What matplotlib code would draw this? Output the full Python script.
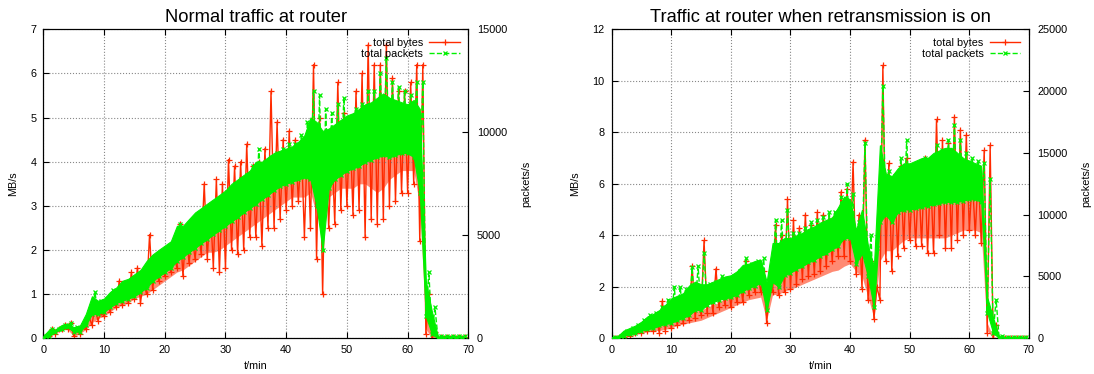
import numpy as np
import matplotlib
matplotlib.use("Agg")
import matplotlib.pyplot as plt

plt.rcParams["font.family"] = ["Liberation Sans", "DejaVu Sans"]

RED, GREEN, GRID = "#ff2a00", "#00f000", "#888888"

# minute index 0..69 ; per-minute envelopes
# *_lo / *_hi : extreme values (spikes) ; *_core_* : edges of the dense band
minutes = np.arange(70)

# ---- left panel: normal traffic (bytes in MB/s, packets in packets/s) ----
normal_bytes_lo = [0.0, 0.05, 0.1, 0.2, 0.2, 0.05, 0.1, 0.2, 0.3, 0.4, 0.5, 0.6, 0.7, 0.75, 0.8, 0.9,
                   0.8, 1.0, 1.1, 1.3, 1.4, 1.5, 1.6, 1.4, 1.7, 1.8, 1.9, 1.8, 1.6, 1.5, 1.6, 2.0,
                   1.9, 2.0, 2.3, 2.3, 2.1, 2.5, 2.5, 2.7, 2.9, 3.0, 3.1, 2.3, 2.5, 1.8, 1.0, 2.5,
                   2.6, 2.9, 3.0, 2.8, 2.9, 2.3, 2.7, 2.6, 2.7, 3.0, 3.1, 3.3, 3.3, 3.5, 2.2, 0.1,
                   0.0, 0.0, 0.01, 0.01, 0.01, 0.01]
normal_bytes_hi = [0.05, 0.2, 0.2, 0.3, 0.35, 0.2, 0.3, 0.5, 0.7, 0.6, 0.8, 0.9, 1.3, 1.1, 1.5, 1.6,
                   1.3, 2.35, 1.7, 1.9, 2.0, 1.9, 2.6, 2.5, 2.3, 2.5, 3.5, 3.0, 3.6, 3.5, 4.05, 3.9,
                   4.0, 4.4, 3.9, 4.0, 4.3, 5.6, 4.9, 4.5, 4.7, 4.5, 4.4, 4.5, 6.2, 5.0, 4.5, 4.4,
                   5.8, 5.1, 4.9, 5.6, 6.0, 6.65, 6.2, 6.2, 6.65, 5.9, 5.6, 5.6, 5.8, 6.2, 6.2, 1.0,
                   0.15, 0.02, 0.02, 0.02, 0.02, 0.02]
normal_bytes_core_lo = [0.0, 0.05, 0.1, 0.2, 0.2, 0.05, 0.1, 0.2, 0.35, 0.45, 0.5, 0.6, 0.7, 0.75, 0.8,
                        0.9, 0.95, 1.0, 1.1, 1.2, 1.3, 1.4, 1.5, 1.55, 1.65, 1.75, 1.85, 1.95, 1.95, 2.0,
                        2.1, 2.2, 2.3, 2.4, 2.5, 2.6, 2.7, 2.8, 2.9, 3.0, 3.1, 3.2, 3.2, 3.2, 3.3, 2.8,
                        2.5, 3.2, 3.3, 3.4, 3.4, 3.4, 3.5, 3.5, 3.4, 3.3, 3.4, 3.6, 3.7, 3.8, 3.8, 3.8,
                        3.0, 0.2, 0.02, 0.01, 0.01, 0.01, 0.01, 0.01]
normal_bytes_core_hi = [0.03, 0.15, 0.18, 0.28, 0.3, 0.15, 0.25, 0.45, 0.6, 0.6, 0.75, 0.85, 0.95, 1.0,
                        1.1, 1.2, 1.25, 1.35, 1.45, 1.55, 1.65, 1.75, 1.9, 2.0, 2.1, 2.2, 2.35, 2.5, 2.6,
                        2.7, 2.8, 2.9, 3.0, 3.1, 3.2, 3.3, 3.4, 3.5, 3.6, 3.7, 3.8, 3.9, 4.0, 4.1, 4.2,
                        4.0, 3.8, 4.0, 4.1, 4.2, 4.2, 4.3, 4.3, 4.4, 4.4, 4.4, 4.5, 4.5, 4.5, 4.6, 4.6,
                        4.6, 4.5, 0.5, 0.1, 0.02, 0.02, 0.02, 0.02, 0.02]
normal_pkts_lo = [20, 110, 320, 430, 540, 320, 320, 640, 1180, 1180, 1290, 1500, 1710, 1820, 1930, 2040,
                  2250, 2460, 2790, 3000, 3210, 3430, 3750, 3960, 4180, 4390, 4610, 4820, 5040, 5250,
                  5460, 5680, 5890, 6110, 6320, 6540, 6750, 6960, 7180, 7390, 7500, 7610, 7710, 7820,
                  7710, 6430, 4290, 7290, 7710, 7930, 8140, 8250, 8360, 8570, 8680, 8790, 8890, 8790,
                  8890, 9000, 9000, 8790, 7070, 1070, 210, 0, 40, 40, 40, 40]
normal_pkts_core = [110, 430, 430, 640, 710, 540, 600, 1180, 2040, 1820, 1930, 2250, 2460, 2790, 2890,
                    3110, 3320, 3750, 4070, 4290, 4500, 4710, 5460, 5460, 5790, 6110, 6320, 6540, 6750,
                    6960, 7180, 7500, 7710, 7930, 8140, 8570, 8570, 8790, 9000, 9110, 9210, 9320, 9540,
                    9860, 10720, 10500, 10070, 10180, 10390, 10610, 10820, 10930, 11140, 11360, 11460,
                    11680, 11890, 11680, 11570, 11460, 11360, 11570, 11140, 2790, 1290, 60, 60, 60,
                    60, 60]
normal_pkts_hi = [110, 430, 430, 640, 750, 540, 640, 1290, 2250, 1820, 1930, 2360, 2360, 2680, 2790,
                  3000, 3110, 3640, 3860, 4180, 4290, 4500, 5570, 5140, 5570, 5890, 6210, 6430, 6640,
                  6860, 7070, 7500, 7710, 7930, 8360, 9210, 8570, 8790, 9000, 9210, 9430, 9430, 9860,
                  10500, 12000, 11790, 11140, 10930, 11360, 11680, 10710, 11140, 11360, 12000, 12000,
                  12860, 13610, 12430, 12210, 12000, 11790, 12430, 12430, 3210, 1500, 110, 110, 110,
                  110, 110]

# ---- right panel: retransmission on ----
retx_bytes_lo = [0.0, 0.0, 0.05, 0.1, 0.2, 0.2, 0.3, 0.3, 0.2, 0.3, 0.4, 0.5, 0.6, 0.7, 0.8, 0.9,
                 1.0, 1.0, 1.2, 1.3, 1.2, 1.4, 1.4, 1.7, 1.8, 1.8, 0.6, 1.8, 1.7, 1.8, 1.9, 2.1,
                 2.3, 2.4, 2.5, 2.6, 2.8, 3.0, 3.2, 3.2, 3.0, 2.5, 1.9, 1.5, 0.75, 1.5, 3.0, 2.6,
                 3.2, 3.5, 3.8, 3.6, 3.6, 3.3, 3.3, 4.0, 3.5, 3.5, 3.8, 4.0, 4.2, 4.0, 3.7, 0.2,
                 0.0, 0.0, 0.01, 0.01, 0.01, 0.01]
retx_bytes_hi = [0.02, 0.05, 0.2, 0.3, 0.4, 0.5, 0.6, 0.8, 1.45, 1.2, 1.3, 1.4, 1.5, 2.8, 1.6, 3.8,
                 1.9, 2.7, 2.0, 2.3, 2.2, 2.4, 3.0, 2.5, 2.6, 2.6, 2.0, 4.4, 4.0, 5.4, 4.6, 4.3,
                 4.8, 4.4, 4.9, 4.8, 4.6, 4.7, 5.7, 5.8, 6.85, 4.8, 7.7, 3.0, 2.0, 10.6, 6.8, 6.2,
                 6.7, 7.0, 6.2, 6.3, 7.0, 6.5, 8.5, 7.7, 7.6, 8.6, 8.1, 7.9, 6.3, 6.5, 7.3, 7.5,
                 0.5, 0.03, 0.02, 0.02, 0.02, 0.02]
retx_bytes_core_lo = [0.0, 0.0, 0.05, 0.1, 0.15, 0.2, 0.25, 0.3, 0.3, 0.35, 0.4, 0.5, 0.55, 0.6, 0.65,
                      0.7, 0.8, 0.9, 1.0, 1.1, 1.2, 1.3, 1.4, 1.5, 1.55, 1.6, 0.7, 1.7, 1.7, 1.85, 1.9,
                      2.0, 2.1, 2.2, 2.3, 2.4, 2.5, 2.6, 2.65, 2.8, 2.9, 2.6, 2.4, 1.6, 0.8, 3.0, 3.4,
                      3.4, 3.6, 3.8, 3.9, 3.9, 3.9, 3.9, 3.9, 3.9, 3.9, 4.0, 4.1, 4.2, 4.2, 4.2, 4.1,
                      0.3, 0.0, 0.01, 0.01, 0.01, 0.01, 0.01]
retx_bytes_core_hi = [0.02, 0.03, 0.12, 0.2, 0.3, 0.35, 0.45, 0.55, 0.6, 0.75, 0.85, 0.9, 0.95, 1.0,
                      1.05, 1.1, 1.2, 1.3, 1.4, 1.55, 1.65, 1.8, 1.95, 2.0, 2.1, 2.15, 1.5, 2.6, 2.5,
                      2.7, 2.8, 2.9, 3.0, 3.1, 3.2, 3.25, 3.4, 3.6, 3.8, 4.1, 4.3, 3.6, 3.2, 2.6, 1.6,
                      6.0, 5.0, 5.0, 5.2, 5.3, 5.4, 5.4, 5.5, 5.5, 5.6, 5.6, 5.7, 5.7, 5.8, 5.8, 5.8,
                      5.7, 5.7, 0.6, 0.05, 0.02, 0.02, 0.02, 0.02, 0.02]
retx_pkts_lo = [0, 0, 210, 310, 420, 620, 730, 830, 1040, 1150, 1250, 1460, 1670, 1870, 2290, 2290,
                2710, 2920, 3120, 3230, 3330, 3540, 3850, 4060, 4270, 4480, 2290, 4580, 4170, 5100,
                5310, 5620, 5830, 6150, 6350, 6670, 6870, 7190, 7500, 8120, 8120, 6040, 6870, 5000,
                2500, 9370, 10000, 9370, 10210, 10420, 10420, 10520, 10620, 10730, 10830, 10940,
                11040, 11040, 11040, 11150, 11250, 11250, 11040, 2080, 420, 40, 60, 60, 60, 60]
retx_pkts_core = [60, 170, 620, 830, 1040, 1350, 1770, 1980, 2290, 2710, 3230, 3440, 3650, 4270, 4580,
                  4370, 4370, 4580, 4790, 5000, 5100, 5420, 5940, 6040, 6250, 6350, 4580, 7710, 7710,
                  8120, 8120, 8330, 8540, 8850, 9060, 9370, 9580, 9790, 10620, 11460, 11250, 8750,
                  10420, 7500, 5830, 15620, 13330, 13120, 13750, 14160, 14160, 14370, 14580, 14580,
                  15000, 15210, 15410, 15410, 15000, 14580, 14370, 14160, 13960, 3330, 1670, 100, 100,
                  100, 100, 100]
retx_pkts_hi = [100, 210, 620, 830, 1040, 1460, 1870, 2080, 2500, 3120, 4170, 4170, 3960, 5730, 5830,
                6870, 4370, 4580, 5000, 4790, 5000, 5420, 6460, 6040, 6250, 6460, 5210, 9580, 9580,
                10420, 8540, 8540, 8960, 9370, 9580, 9790, 10210, 10210, 11460, 12500, 11670, 9370,
                15830, 8330, 7290, 20420, 13540, 13120, 14580, 16040, 13540, 13960, 14580, 14170,
                15620, 15210, 16040, 17290, 16040, 15000, 14580, 14370, 14170, 12920, 3120, 210, 100,
                100, 100, 100]


def zigzag(lo, hi):
    # alternate low at the start of each minute, high half a minute later
    x = np.column_stack([minutes, minutes + 0.5]).ravel()
    y = np.column_stack([lo, hi]).ravel()
    return x, y


def panel(rect, title, b, p, ymax, pmax, ptick):
    blo, bclo, bchi, bhi = b
    plo, pcore, phi = p
    ax = fig.add_axes(rect)
    ax2 = ax.twinx()
    ax.set_zorder(ax2.get_zorder() + 1)
    ax.patch.set_visible(False)
    k = pmax / ymax  # packets per MB/s on the shared plot area
    ax.fill_between(minutes, bclo, bchi, color=RED, lw=0, alpha=0.55, zorder=1)
    x, y = zigzag(blo, bhi)
    lb, = ax.plot(x, y, color=RED, lw=1, marker="+", ms=4, mew=0.9, label="total bytes", zorder=2)
    ax.fill_between(minutes, np.array(plo) / k, np.array(pcore) / k, color=GREEN, lw=0.8,
                    ec=GREEN, zorder=3)
    x, y = zigzag(np.array(plo) / k, np.array(phi) / k)
    lp, = ax.plot(x, y, color=GREEN, lw=1, ls="--", marker="x", ms=3.5, mew=0.9,
                  label="total packets", zorder=4)
    ax.set_xlim(0, 70)
    ax.set_ylim(0, ymax)
    ax2.set_ylim(0, pmax)
    ax.set_xticks(range(0, 71, 10))
    ax2.set_yticks(ptick)
    ax.grid(True, color=GRID, ls=":", lw=0.8)
    ax.tick_params(direction="in", labelsize=7.8, top=True, length=4, pad=5)
    ax2.tick_params(direction="in", labelsize=7.8, length=4, pad=6)
    ax.set_xlabel("t/min", fontsize=7.8, labelpad=4)
    ax.set_ylabel("MB/s", fontsize=7.8, labelpad=9)
    ax2.set_ylabel("packets/s", fontsize=7.8, labelpad=10)
    ax.set_title(title, fontsize=13.2, pad=5.5)
    ax.legend(handles=[lb, lp], loc="upper right", frameon=False, markerfirst=False,
              fontsize=7.8, handlelength=2.8, labelspacing=0.05, borderaxespad=0.4,
              handletextpad=0.6, borderpad=0.4)
    return ax


fig = plt.figure(figsize=(10.94, 3.74), dpi=100)
panel([0.0396, 0.0955, 0.3885, 0.826], "Normal traffic at router",
      (normal_bytes_lo, normal_bytes_core_lo, normal_bytes_core_hi, normal_bytes_hi),
      (normal_pkts_lo, normal_pkts_core, normal_pkts_hi),
      7, 15000, [0, 5000, 10000, 15000])
panel([0.5591, 0.0955, 0.3814, 0.826], "Traffic at router when retransmission is on",
      (retx_bytes_lo, retx_bytes_core_lo, retx_bytes_core_hi, retx_bytes_hi),
      (retx_pkts_lo, retx_pkts_core, retx_pkts_hi),
      12, 25000, [0, 5000, 10000, 15000, 20000, 25000])
fig.savefig("out.png", dpi=100)
